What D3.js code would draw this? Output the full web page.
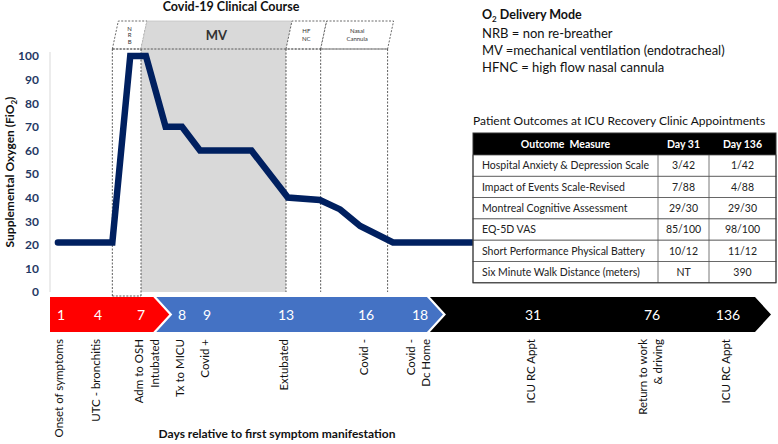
<!DOCTYPE html>
<html>
<head>
<meta charset="utf-8">
<script src="https://cdn.jsdelivr.net/npm/d3@7"></script>
<style>
body{margin:0;background:#fff}
text{font-family:Lato,"Open Sans",sans-serif}
</style>
</head>
<body>
<script>
let width = 778
let height = 444

// days printed in the arrow band, and where each one sits on the schematic axis
const timelineDays = [1, 4, 7, 8, 9, 13, 16, 18, 31, 76, 136]
const timelineX = [61, 98, 141, 182, 207, 286, 366, 420, 533, 652, 728]

// events under the band
const eventDays = [1, 4, 7, 7.4, 8, 9, 13, 16, 18, 31, 76, 136]
const eventLabels = [
    ["Onset of symptoms"], ["UTC - bronchitis"], ["Adm to OSH"], ["Intubated"],
    ["Tx to MICU"], ["Covid +"], ["Extubated"], ["Covid -"], ["Covid -", "Dc Home"],
    ["ICU RC Appt"], ["Return to work", "& driving"], ["ICU RC Appt"]
]

// FiO2 course
const fio2Days = [0.75, 5, 6.25, 7.12, 7.6, 8, 8.72, 11.25, 13.07, 14.27, 15.03, 15.78, 17, 24]
const fio2Values = [21, 21, 100, 100, 70, 70, 60, 60, 40, 39, 35, 28, 21, 21]
const yTicks = [0, 10, 20, 30, 40, 50, 60, 70, 80, 90, 100]

// O2 delivery modes
const modeStart = [5, 7, 13, 14.3]
const modeEnd = [7, 13, 14.3, 16.8]
const modeLabels = [["N", "R", "B"], ["MV"], ["HF", "NC"], ["Nasal", "Cannula"]]

const legendLines = ["NRB = non re-breather", "MV =mechanical ventilation (endotracheal)", "HFNC = high flow nasal cannula"]

const tableHeader = ["Outcome  Measure", "Day 31", "Day 136"]
const outcomeMeasures = ["Hospital Anxiety & Depression Scale", "Impact of Events Scale-Revised", "Montreal Cognitive Assessment", "EQ-5D VAS", "Short Performance Physical Battery", "Six Minute Walk Distance (meters)"]
const day31 = ["3/42", "7/88", "29/30", "85/100", "10/12", "NT"]
const day136 = ["1/42", "4/88", "29/30", "98/100", "11/12", "390"]

let svg = d3.select("body").append("svg")
    .attr("width", width)
    .attr("height", height)

let x = d3.scaleLinear().domain(timelineDays).range(timelineX)
let y = d3.scaleLinear().domain([0, 100]).range([292, 56])

let boxTop = 21, boxBottom = 49, slant = 6
let bandTop = 297, bandBottom = 332, bandMid = (bandTop + bandBottom) / 2

// MV shaded region
svg.append("rect")
    .attr("x", x(modeStart[1]))
    .attr("y", boxBottom)
    .attr("width", x(modeEnd[1]) - x(modeStart[1]))
    .attr("height", y(0) - boxBottom)
    .attr("fill", "#d9d9d9")

// header parallelograms
modeLabels.forEach((lab, i) => {
    let a = x(modeStart[i]), b = x(modeEnd[i])
    let isMV = i == 1
    svg.append("path")
        .attr("d", `M${a},${boxBottom}L${a + slant},${boxTop}L${b + slant},${boxTop}L${b},${boxBottom}Z`)
        .attr("fill", isMV ? "#d9d9d9" : "#fff")
        .attr("stroke", isMV ? "#c4c4c4" : "#444")
        .attr("stroke-width", 0.8)
        .attr("stroke-dasharray", isMV ? null : "2,1.5")
    let cx = (a + b) / 2 + slant / 2
    let fs = isMV ? 13 : 6
    let lh = lab.length == 3 ? 6.5 : 8
    lab.forEach((t, j) => {
        svg.append("text")
            .attr("x", cx)
            .attr("y", (boxTop + boxBottom) / 2 + (j - (lab.length - 1) / 2) * lh)
            .attr("dy", "0.35em")
            .attr("text-anchor", "middle")
            .attr("font-size", fs)
            .attr("font-weight", isMV ? "bold" : "normal")
            .attr("fill", "#333")
            .text(t)
    })
})

// dotted column boundaries
let bounds = [modeStart[0], modeStart[1], modeStart[2], modeStart[3], modeEnd[3]]
bounds.forEach((d, i) => {
    svg.append("line")
        .attr("x1", x(d)).attr("x2", x(d))
        .attr("y1", boxBottom).attr("y2", i < 2 ? bandTop - 1 : y(0))
        .attr("stroke", "#333")
        .attr("stroke-width", 0.8)
        .attr("stroke-dasharray", "2,1.5")
})
svg.append("line")
    .attr("x1", x(modeStart[0])).attr("x2", x(modeEnd[3]))
    .attr("y1", boxBottom).attr("y2", boxBottom)
    .attr("stroke", "#444").attr("stroke-width", 0.8).attr("stroke-dasharray", "2,1.5")
svg.append("line")
    .attr("x1", x(modeStart[0])).attr("x2", x(modeEnd[0]))
    .attr("y1", bandTop - 1).attr("y2", bandTop - 1)
    .attr("stroke", "#333").attr("stroke-width", 0.8).attr("stroke-dasharray", "2,1.5")

// y axis
svg.append("line")
    .attr("x1", 50).attr("x2", 50)
    .attr("y1", 52).attr("y2", y(0))
    .attr("stroke", "#d9d9d9")

let yAxis = svg.append("g")
    .attr("transform", "translate(50,0)")
    .call(d3.axisLeft(y).tickValues(yTicks).tickSize(0).tickPadding(11))
yAxis.select(".domain").remove()
yAxis.selectAll("text")
    .attr("font-family", "Lato, sans-serif")
    .attr("font-size", 12)
    .attr("font-weight", "bold")
    .attr("fill", "#1f3864")

let yTitle = svg.append("text")
    .attr("transform", "translate(10,172) rotate(-90)")
    .attr("text-anchor", "middle")
    .attr("dy", "0.35em")
    .attr("font-size", 12)
    .attr("font-weight", "bold")
    .attr("fill", "#111")
yTitle.append("tspan").text("Supplemental Oxygen (FiO")
yTitle.append("tspan").attr("dy", 3).attr("font-size", 8).text("2")
yTitle.append("tspan").attr("dy", -3).text(")")

// FiO2 line
let line = d3.line()
    .x((d, i) => x(fio2Days[i]))
    .y(d => y(d))

svg.append("path")
    .datum(fio2Values)
    .attr("d", line)
    .attr("fill", "none")
    .attr("stroke", "#002060")
    .attr("stroke-width", 6.5)
    .attr("stroke-linecap", "round")

// title
svg.append("text")
    .attr("x", 231).attr("y", 11)
    .attr("text-anchor", "middle")
    .attr("font-size", 12.5)
    .attr("font-weight", "bold")
    .attr("fill", "#111")
    .text("Covid-19 Clinical Course")

// legend
let legend = svg.append("text")
    .attr("x", 482).attr("y", 19)
    .attr("font-size", 12.5)
    .attr("font-weight", "bold")
    .attr("fill", "#111")
legend.append("tspan").text("O")
legend.append("tspan").attr("dy", 3).attr("font-size", 8).text("2")
legend.append("tspan").attr("dy", -3).text(" Delivery Mode")

svg.selectAll(".legline").data(legendLines).enter()
    .append("text")
    .attr("class", "legline")
    .attr("x", 482)
    .attr("y", (d, i) => 38 + i * 17)
    .attr("font-size", 13)
    .attr("fill", "#111")
    .text(d => d)

// timeline band
let e1 = x(7.3), e2 = x(18.8), gap = 3, tip = 16, right = 755
let bandParts = [
    {color: "#ff0000", pts: [[50, bandTop], [e1, bandTop], [e1 + tip, bandMid], [e1, bandBottom], [50, bandBottom]]},
    {color: "#4472c4", pts: [[e1 + gap, bandTop], [e2, bandTop], [e2 + tip, bandMid], [e2, bandBottom], [e1 + gap, bandBottom], [e1 + gap + tip, bandMid]]},
    {color: "#000000", pts: [[e2 + gap, bandTop], [right, bandTop], [right + tip, bandMid], [right, bandBottom], [e2 + gap, bandBottom], [e2 + gap + tip, bandMid]]}
]
svg.selectAll(".band").data(bandParts).enter()
    .append("polygon")
    .attr("class", "band")
    .attr("points", d => d.pts.map(p => p.join(",")).join(" "))
    .attr("fill", d => d.color)

svg.selectAll(".dayNum").data(timelineDays).enter()
    .append("text")
    .attr("class", "dayNum")
    .attr("x", d => x(d))
    .attr("y", bandMid)
    .attr("dy", "0.36em")
    .attr("text-anchor", "middle")
    .attr("font-size", 14)
    .attr("fill", "#fff")
    .text(d => d)

// event labels
eventLabels.forEach((lab, i) => {
    let cx = x(eventDays[i]) - (lab.length > 1 ? 2 : 2)
    lab.forEach((t, j) => {
        svg.append("text")
            .attr("transform", `translate(${cx + (j - (lab.length - 1) / 2) * 15},339) rotate(-90)`)
            .attr("text-anchor", "end")
            .attr("dy", "0.35em")
            .attr("font-size", 11.5)
            .attr("fill", "#111")
            .text(t)
    })
})

svg.append("text")
    .attr("x", 277).attr("y", 438)
    .attr("text-anchor", "middle")
    .attr("font-size", 12)
    .attr("font-weight", "bold")
    .attr("fill", "#111")
    .text("Days relative to first symptom manifestation")

// outcomes table
let tx = 473, tw = 303, colX = [473, 658, 709, 776]
let headTop = 133, headH = 22, rowH = 21.3

svg.append("text")
    .attr("x", tx).attr("y", 125)
    .attr("font-size", 12)
    .attr("fill", "#111")
    .text("Patient Outcomes at ICU Recovery Clinic Appointments")

svg.append("rect")
    .attr("x", tx).attr("y", headTop)
    .attr("width", tw).attr("height", headH)
    .attr("fill", "#000")

tableHeader.forEach((h, i) => {
    svg.append("text")
        .attr("x", (colX[i] + colX[i + 1]) / 2)
        .attr("y", headTop + headH / 2)
        .attr("dy", "0.35em")
        .attr("text-anchor", "middle")
        .attr("font-size", 10.5)
        .attr("font-weight", "bold")
        .attr("fill", "#fff")
        .style("white-space", "pre")
        .text(h)
})

let rows = svg.selectAll(".row").data(outcomeMeasures).enter()
    .append("g")
    .attr("class", "row")
    .attr("transform", (d, i) => `translate(0,${headTop + headH + i * rowH})`)

rows.append("rect")
    .attr("x", tx).attr("width", tw).attr("height", rowH)
    .attr("fill", "#fff")
    .attr("stroke", "#555").attr("stroke-width", 0.8)
rows.append("text")
    .attr("x", tx + 9).attr("y", rowH / 2).attr("dy", "0.35em")
    .attr("font-size", 10.5).attr("fill", "#222")
    .text(d => d)
rows.append("text")
    .attr("x", (colX[1] + colX[2]) / 2).attr("y", rowH / 2).attr("dy", "0.35em")
    .attr("text-anchor", "middle")
    .attr("font-size", 10.5).attr("fill", "#222")
    .text((d, i) => day31[i])
rows.append("text")
    .attr("x", (colX[2] + colX[3]) / 2).attr("y", rowH / 2).attr("dy", "0.35em")
    .attr("text-anchor", "middle")
    .attr("font-size", 10.5).attr("fill", "#222")
    .text((d, i) => day136[i])

svg.selectAll(".colLine").data([colX[1], colX[2]]).enter()
    .append("line")
    .attr("class", "colLine")
    .attr("x1", d => d).attr("x2", d => d)
    .attr("y1", headTop + headH).attr("y2", headTop + headH + rowH * outcomeMeasures.length)
    .attr("stroke", "#555").attr("stroke-width", 0.8)

svg.append("rect")
    .attr("x", tx).attr("y", headTop)
    .attr("width", tw).attr("height", headH + rowH * outcomeMeasures.length)
    .attr("fill", "none")
    .attr("stroke", "#333").attr("stroke-width", 1)
</script>
</body>
</html>
